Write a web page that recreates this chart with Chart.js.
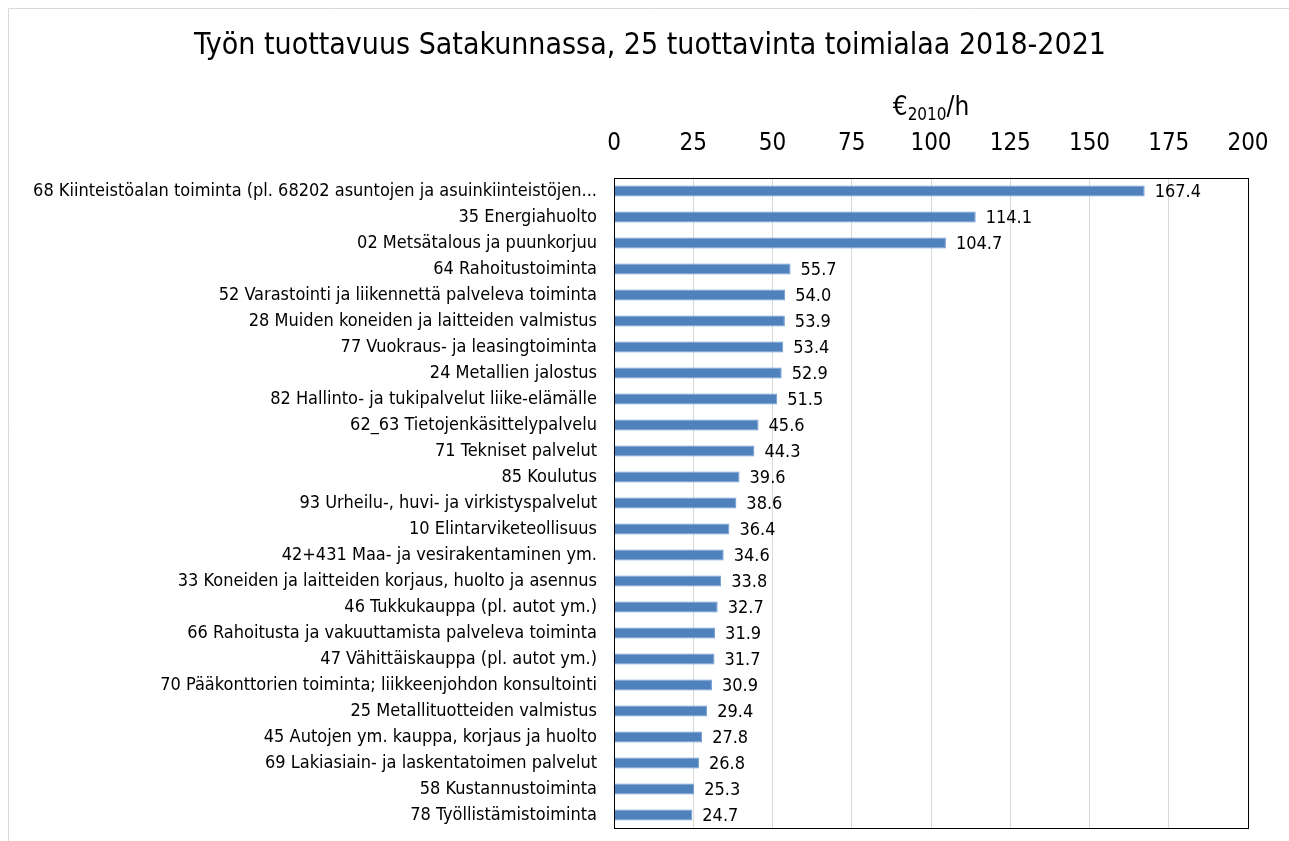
<!DOCTYPE html>
<html>
<head>
<meta charset="utf-8">
<script src="https://cdn.jsdelivr.net/npm/chart.js@4.4.1/dist/chart.umd.min.js"></script>
<style>
html,body{margin:0;padding:0;background:#fff;}
#wrap{width:1289px;height:841px;position:relative;}
</style>
</head>
<body>
<div id="wrap"><canvas id="c" width="1289" height="841"></canvas></div>
<script>
const categories = [
  "68 Kiinteistöalan toiminta (pl. 68202 asuntojen ja asuinkiinteistöjen...",
  "35 Energiahuolto",
  "02 Metsätalous ja puunkorjuu",
  "64 Rahoitustoiminta",
  "52 Varastointi ja liikennettä palveleva toiminta",
  "28 Muiden koneiden ja laitteiden valmistus",
  "77 Vuokraus- ja leasingtoiminta",
  "24 Metallien jalostus",
  "82 Hallinto- ja tukipalvelut liike-elämälle",
  "62_63 Tietojenkäsittelypalvelu",
  "71 Tekniset palvelut",
  "85 Koulutus",
  "93 Urheilu-, huvi- ja virkistyspalvelut",
  "10 Elintarviketeollisuus",
  "42+431 Maa- ja vesirakentaminen ym.",
  "33 Koneiden ja laitteiden korjaus, huolto ja asennus",
  "46 Tukkukauppa (pl. autot ym.)",
  "66 Rahoitusta ja vakuuttamista palveleva toiminta",
  "47 Vähittäiskauppa (pl. autot ym.)",
  "70 Pääkonttorien toiminta; liikkeenjohdon konsultointi",
  "25 Metallituotteiden valmistus",
  "45 Autojen ym. kauppa, korjaus ja huolto",
  "69 Lakiasiain- ja laskentatoimen palvelut",
  "58 Kustannustoiminta",
  "78 Työllistämistoiminta"
];
const values = [167.4, 114.1, 104.7, 55.7, 54.0, 53.9, 53.4, 52.9, 51.5, 45.6, 44.3, 39.6, 38.6, 36.4, 34.6, 33.8, 32.7, 31.9, 31.7, 30.9, 29.4, 27.8, 26.8, 25.3, 24.7];
const xTicks = [0, 25, 50, 75, 100, 125, 150, 175, 200];
const titleText = "Työn tuottavuus Satakunnassa, 25 tuottavinta toimialaa 2018-2021";
const unitMain = "€";
const unitSub = "2010";
const unitTail = "/h";

const FONT = "'Liberation Sans Narrow', 'DejaVu Sans Condensed', 'Liberation Sans', sans-serif";

const decor = {
  id: 'decor',
  beforeDraw(chart) {
    const ctx = chart.ctx;
    ctx.save();
    ctx.fillStyle = '#fff';
    ctx.fillRect(0, 0, chart.width, chart.height);
    ctx.strokeStyle = '#d9d9d9';
    ctx.lineWidth = 1;
    ctx.beginPath();
    ctx.moveTo(8.5, chart.height);
    ctx.lineTo(8.5, 8.5);
    ctx.lineTo(chart.width, 8.5);
    ctx.stroke();
    ctx.restore();
  },
  afterDraw(chart) {
    const ctx = chart.ctx;
    const a = chart.chartArea;
    ctx.save();
    ctx.strokeStyle = '#000';
    ctx.lineWidth = 1;
    ctx.strokeRect(Math.round(a.left) + 0.5, Math.round(a.top) + 0.5, Math.round(a.right - a.left), Math.round(a.bottom - a.top));
    // title
    ctx.fillStyle = '#000';
    ctx.textAlign = 'center';
    ctx.textBaseline = 'middle';
    ctx.font = '30px ' + FONT;
    ctx.fillText(titleText, 650, 46);
    // axis unit title with subscript
    const cx = (a.left + a.right) / 2;
    ctx.textAlign = 'left';
    ctx.textBaseline = 'alphabetic';
    const mainFont = '26px ' + FONT, subFont = '17px ' + FONT;
    ctx.font = mainFont; const w1 = ctx.measureText(unitMain).width; const w3 = ctx.measureText(unitTail).width;
    ctx.font = subFont; const w2 = ctx.measureText(unitSub).width;
    let x = cx - (w1 + w2 + w3) / 2;
    const base = 115;
    ctx.font = mainFont; ctx.fillText(unitMain, x, base); x += w1;
    ctx.font = subFont; ctx.fillText(unitSub, x, base + 5); x += w2;
    ctx.font = mainFont; ctx.fillText(unitTail, x, base);
    // value labels
    const meta = chart.getDatasetMeta(0);
    ctx.font = '18px ' + FONT;
    ctx.textBaseline = 'middle';
    ctx.textAlign = 'left';
    meta.data.forEach((bar, i) => {
      ctx.fillText(values[i].toFixed(1), bar.x + 10, bar.y + 1);
    });
    ctx.restore();
  }
};

new Chart(document.getElementById('c'), {
  type: 'bar',
  data: {
    labels: categories,
    datasets: [{
      data: values,
      backgroundColor: '#4f81bd',
      borderColor: '#6f9bd1',
      borderWidth: 1,
      barPercentage: 0.43,
      categoryPercentage: 1.0
    }]
  },
  options: {
    indexAxis: 'y',
    responsive: false,
    animation: false,
    devicePixelRatio: 1,
    layout: { padding: { left: 0, right: 41, top: 0, bottom: 13 } },
    plugins: { legend: { display: false }, tooltip: { enabled: false }, title: { display: false } },
    scales: {
      x: {
        position: 'top',
        min: 0, max: 200,
        afterBuildTicks(scale) { scale.ticks = xTicks.map(v => ({ value: v })); },
        afterFit(scale) { scale.height = 178; },
        ticks: { color: '#000', font: { family: FONT, size: 24 }, padding: 20, maxRotation: 0 },
        grid: { color: '#d9d9d9', drawTicks: false },
        border: { display: false }
      },
      y: {
        afterFit(scale) { scale.width = 614; scale.paddingTop = 0; scale.paddingBottom = 0; },
        ticks: { color: '#000', font: { family: FONT, size: 18 }, padding: 17, autoSkip: false },
        grid: { display: false, drawTicks: false },
        border: { display: false }
      }
    }
  },
  plugins: [decor]
});
</script>
</body>
</html>
